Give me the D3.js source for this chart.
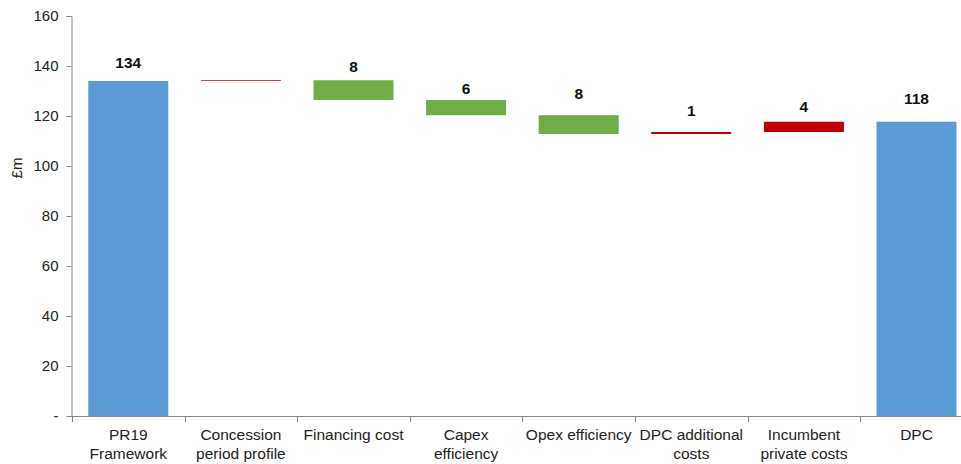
<!DOCTYPE html>
<html>
<head>
<meta charset="utf-8">
<script src="https://cdn.jsdelivr.net/npm/d3@7"></script>
<style>
  html, body { margin: 0; padding: 0; background: #fff; }
  svg { display: block; font-family: Arial, "Liberation Sans", sans-serif; }
</style>
</head>
<body>
<svg id="chart" width="961" height="464"></svg>
<script>
// ---- data ----
const categories = ["PR19 Framework", "Concession period profile", "Financing cost", "Capex efficiency",
                    "Opex efficiency", "DPC additional costs", "Incumbent private costs", "DPC"];
const categoryLines = [["PR19", "Framework"], ["Concession", "period profile"], ["Financing cost"], ["Capex", "efficiency"],
                       ["Opex efficiency"], ["DPC additional", "costs"], ["Incumbent", "private costs"], ["DPC"]];
const kinds = ["total", "increase", "decrease", "decrease", "decrease", "increase", "increase", "total"];
const values = [134.0, 0.3, -7.9, -6.1, -7.5, 0.8, 4.1, 117.7];
const valueLabels = ["134", "", "8", "6", "8", "1", "4", "118"];
const labelAt = [139.3, null, 137.7, 129.0, 127.0, 119.9, 121.7, 125.0];
const yTicks = [0, 20, 40, 60, 80, 100, 120, 140, 160];
const yTickLabels = ["-", "20", "40", "60", "80", "100", "120", "140", "160"];

// ---- build waterfall segments ----
let running = 0;
const segs = categories.map((c, i) => {
  let lo, hi;
  if (kinds[i] === "total") { lo = 0; hi = values[i]; running = values[i]; }
  else { const s = running; running += values[i]; lo = Math.min(s, running); hi = Math.max(s, running); }
  return { cat: c, kind: kinds[i], lo, hi, label: valueLabels[i], labelAt: labelAt[i], lines: categoryLines[i] };
});

const colors = { total: "#5B9BD5", decrease: "#70AD47", increase: "#C00000" };

const svg = d3.select("#chart");
const pad = 0.2895;
const x = d3.scaleBand().domain(categories).range([72, 972.8]).paddingInner(pad).paddingOuter(pad / 2);
const y = d3.scaleLinear().domain([0, 160]).range([416, 16]);
const step = x.step();

// bars
svg.append("g").selectAll("rect").data(segs).join("rect")
  .attr("x", d => x(d.cat))
  .attr("width", x.bandwidth())
  .attr("y", d => y(d.hi))
  .attr("height", d => y(d.lo) - y(d.hi))
  .attr("fill", d => colors[d.kind]);

// y axis
const yAxis = d3.axisLeft(y).tickValues(yTicks).tickSize(5).tickPadding(8)
  .tickFormat((d, i) => yTickLabels[i]);
const gy = svg.append("g").attr("transform", "translate(71.5,0)").call(yAxis);
gy.select(".domain").attr("stroke", "#868686");
gy.selectAll(".tick line").attr("stroke", "#868686");
gy.selectAll(".tick text").attr("fill", "#222").style("font-size", "15px").style("font-family", "Arial, 'Liberation Sans', sans-serif");

// x axis line
const gx = svg.append("g");
gx.append("line").attr("x1", 71.5).attr("x2", 961).attr("y1", 416.5).attr("y2", 416.5).attr("stroke", "#868686");
// ticks at band boundaries
const bounds = categories.map(c => x(c) - step * pad / 2);
gx.selectAll("line.tk").data(bounds).join("line").attr("class", "tk")
  .attr("x1", d => Math.round(d) + 0.5).attr("x2", d => Math.round(d) + 0.5)
  .attr("y1", 416.5).attr("y2", 422).attr("stroke", "#868686");

// category labels
const lab = gx.selectAll("text.cat").data(segs).join("text").attr("class", "cat")
  .attr("text-anchor", "middle").attr("fill", "#222").style("font-size", "15.5px");
lab.each(function (d) {
  const t = d3.select(this);
  d.lines.forEach((ln, k) => {
    t.append("tspan").attr("x", x(d.cat) + x.bandwidth() / 2).attr("y", 440 + k * 19).text(ln);
  });
});

// value labels
svg.append("g").selectAll("text").data(segs.filter(d => d.label)).join("text")
  .attr("x", d => x(d.cat) + x.bandwidth() / 2)
  .attr("y", d => y(d.labelAt))
  .attr("text-anchor", "middle")
  .attr("fill", "#111")
  .style("font-size", "15.5px").style("font-weight", "bold")
  .text(d => d.label);

// y axis title
svg.append("text").attr("transform", "translate(22,168) rotate(-90)")
  .attr("text-anchor", "middle").attr("fill", "#222").style("font-size", "15px").text("£m");
</script>
</body>
</html>
